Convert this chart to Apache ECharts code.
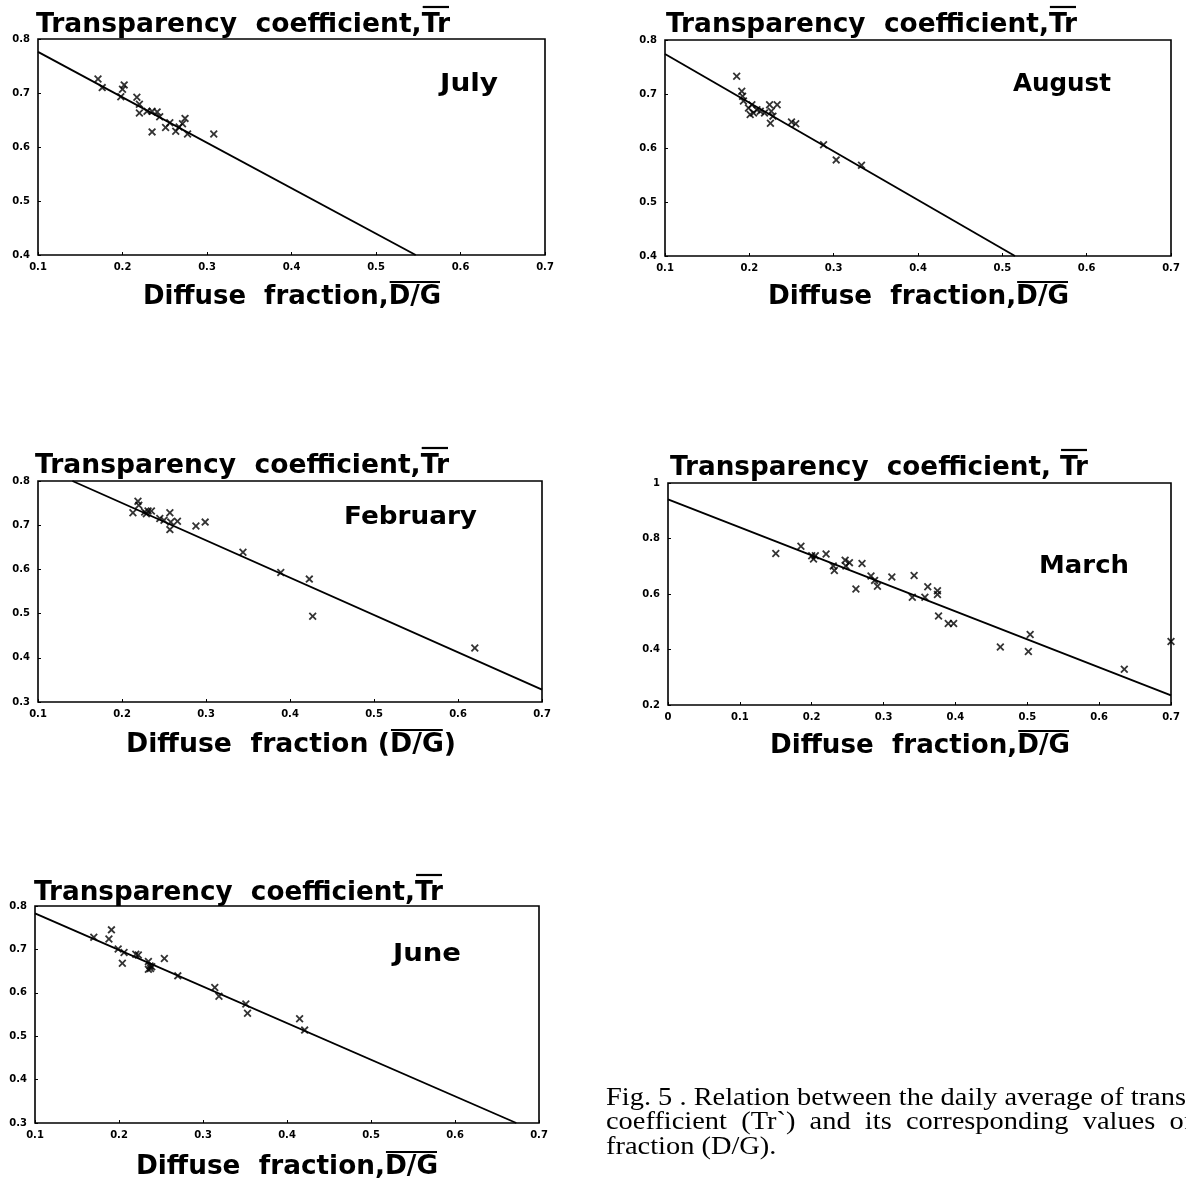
<!DOCTYPE html>
<html><head><meta charset="utf-8">
<script src="https://cdn.jsdelivr.net/npm/echarts@6/dist/echarts.min.js"></script>
<style>html,body{margin:0;padding:0;background:#fff}#c{width:1186px;height:1183px}</style>
</head><body><div id="c"></div>
<script>
// ---------------- DATA ----------------
const julyPoints = [[0.171,0.726],[0.176,0.710],[0.198,0.693],[0.200,0.707],[0.202,0.715],[0.217,0.692],[0.220,0.679],[0.220,0.663],[0.229,0.666],[0.235,0.666],[0.241,0.665],[0.244,0.656],[0.235,0.628],[0.251,0.636],[0.256,0.645],[0.263,0.629],[0.267,0.637],[0.271,0.643],[0.274,0.653],[0.277,0.624],[0.308,0.624]];
const julyFit = [[0.1,0.776],[0.547,0.40]];

const augustPoints = [[0.185,0.733],[0.191,0.705],[0.192,0.696],[0.193,0.687],[0.199,0.674],[0.201,0.662],[0.203,0.680],[0.205,0.665],[0.209,0.671],[0.213,0.668],[0.218,0.665],[0.224,0.680],[0.226,0.668],[0.228,0.659],[0.225,0.646],[0.233,0.680],[0.250,0.648],[0.255,0.645],[0.288,0.606],[0.303,0.578],[0.333,0.568]];
const augustFit = [[0.1,0.774],[0.515,0.40]];

const februaryPoints = [[0.213,0.728],[0.219,0.754],[0.220,0.745],[0.227,0.730],[0.229,0.726],[0.231,0.732],[0.235,0.732],[0.245,0.715],[0.250,0.711],[0.257,0.728],[0.257,0.690],[0.258,0.707],[0.266,0.709],[0.288,0.698],[0.299,0.707],[0.344,0.639],[0.389,0.593],[0.423,0.578],[0.427,0.494],[0.620,0.422]];
const februaryFit = [[0.141,0.80],[0.70,0.328]];

const marchPoints = [[0.150,0.746],[0.185,0.772],[0.200,0.738],[0.2025,0.726],[0.205,0.738],[0.220,0.744],[0.230,0.701],[0.2315,0.685],[0.2465,0.722],[0.2525,0.713],[0.2475,0.701],[0.270,0.710],[0.2615,0.618],[0.2825,0.665],[0.2875,0.649],[0.2915,0.628],[0.3115,0.661],[0.3425,0.667],[0.340,0.588],[0.3615,0.626],[0.3575,0.588],[0.375,0.612],[0.375,0.598],[0.3765,0.521],[0.390,0.494],[0.3975,0.494],[0.4625,0.409],[0.5015,0.393],[0.504,0.454],[0.635,0.329],[0.70,0.429]];
const marchFit = [[0,0.941],[0.7,0.235]];

const junePoints = [[0.170,0.728],[0.188,0.724],[0.191,0.745],[0.199,0.701],[0.206,0.693],[0.204,0.668],[0.220,0.689],[0.223,0.687],[0.235,0.672],[0.237,0.662],[0.2375,0.656],[0.235,0.654],[0.239,0.660],[0.254,0.679],[0.270,0.639],[0.314,0.612],[0.319,0.592],[0.351,0.574],[0.353,0.553],[0.415,0.540],[0.421,0.514]];
const juneFit = [[0.1,0.783],[0.673,0.30]];

const monthNames = ['July','August','February','March','June'];
// [text before overline, overlined part, text after]
const yTitle = ['Transparency  coefficient,', 'Tr', ''];
const yTitleMarch = ['Transparency  coefficient, ', 'Tr', ''];
const xTitle = ['Diffuse  fraction,', 'D/G', ''];
const xTitleFeb = ['Diffuse  fraction (', 'D/G', ')'];
const captionLines = ['Fig. 5 . Relation between the daily average of trans',
                      'coefficient  (Tr`)  and  its  corresponding  values  of',
                      'fraction (D/G).'];

// ---------------- LAYOUT ----------------
const panels = [
  {pts: julyPoints, fit: julyFit, grid:{left:38, top:39, width:507, height:216}, x:[0.1,0.7,0.1], y:[0.4,0.8,0.1],
   title:{t:yTitle, x:36, y:25, w:414}, name:{t:xTitle, x:143, y:297, w:298}, month:{t:monthNames[0], x:440, y:85, w:58}},
  {pts: augustPoints, fit: augustFit, grid:{left:665, top:40, width:506, height:216}, x:[0.1,0.7,0.1], y:[0.4,0.8,0.1],
   title:{t:yTitle, x:666, y:25, w:411}, name:{t:xTitle, x:768, y:297, w:301}, month:{t:monthNames[1], x:1013, y:85, w:98}},
  {pts: februaryPoints, fit: februaryFit, grid:{left:38, top:481, width:504, height:221}, x:[0.1,0.7,0.1], y:[0.3,0.8,0.1],
   title:{t:yTitle, x:35, y:466, w:414}, name:{t:xTitleFeb, x:126, y:745, w:330}, month:{t:monthNames[2], x:344, y:518, w:133}},
  {pts: marchPoints, fit: marchFit, grid:{left:668, top:483, width:503, height:222}, x:[0,0.7,0.1], y:[0.2,1.0,0.2],
   title:{t:yTitleMarch, x:670, y:468, w:418}, name:{t:xTitle, x:770, y:746, w:300}, month:{t:monthNames[3], x:1039, y:567, w:90}},
  {pts: junePoints, fit: juneFit, grid:{left:35, top:906, width:504, height:217}, x:[0.1,0.7,0.1], y:[0.3,0.8,0.1],
   title:{t:yTitle, x:34, y:893, w:409}, name:{t:xTitle, x:136, y:1167, w:302}, month:{t:monthNames[4], x:393, y:955, w:68}}
];

const HEAD = {size:26, family:'"DejaVu Sans"', weight:'bold', bar:18};
const NAME = {size:27, family:'"DejaVu Sans"', weight:'bold', bar:15};
const MONTH_FONT = 'bold 24px "DejaVu Sans"';
const CAP_FONT = '25px "Liberation Serif"';

const mctx = document.createElement('canvas').getContext('2d');
function measure(text, font){ mctx.font = font; return mctx.measureText(text).width; }
function stretchedText(text, x, y, font, w){
  const nat = measure(text, font);
  return {type:'text', x:x, y:y, scaleX: w ? w/nat : 1, originX:0, originY:0, silent:true,
          style:{text:text, font:font, fill:'#000', align:'left', verticalAlign:'middle', textAlign:'left', textVerticalAlign:'middle'}};
}
function overlinedText(parts, x, y, spec, w){
  const font = spec.weight + ' ' + spec.size + 'px ' + spec.family;
  const full = parts.join('');
  const s = w / measure(full, font);
  const x0 = x + measure(parts[0], font) * s;
  const x1 = x + measure(parts[0] + parts[1], font) * s;
  return [stretchedText(full, x, y, font, w),
    {type:'line', silent:true, shape:{x1:x0+1, y1:y-spec.bar, x2:x1-1, y2:y-spec.bar}, style:{stroke:'#000', lineWidth:2.2}}];
}

const crossPath = 'path://M0,1.6L1.6,0L5,3.4L8.4,0L10,1.6L6.6,5L10,8.4L8.4,10L5,6.6L1.6,10L0,8.4L3.4,5Z';
const fmt = v => String(Math.round(v*10)/10);

const grids=[], xAxes=[], yAxes=[], series=[], graphics=[];
panels.forEach((p,i)=>{
  grids.push(Object.assign({show:true, borderColor:'#000', borderWidth:1.6, containLabel:false}, p.grid));
  const label = {color:'#000', fontSize:10, fontWeight:'bold', fontFamily:'DejaVu Sans', formatter:fmt};
  const common = {axisLine:{show:false}, splitLine:{show:false},
    axisTick:{show:true, inside:true, length:3, lineStyle:{color:'#000', width:1}}};
  xAxes.push(Object.assign({type:'value', gridIndex:i, min:p.x[0], max:p.x[1], interval:p.x[2],
    axisLabel:Object.assign({margin:7}, label)}, common));
  yAxes.push(Object.assign({type:'value', gridIndex:i, min:p.y[0], max:p.y[1], interval:p.y[2],
    axisLabel:Object.assign({margin:8}, label)}, common));
  series.push({type:'line', xAxisIndex:i, yAxisIndex:i, data:p.fit, showSymbol:false, silent:true,
    lineStyle:{color:'#000', width:1.9}, z:2});
  series.push({type:'scatter', xAxisIndex:i, yAxisIndex:i, data:p.pts, symbol:crossPath, symbolSize:8,
    itemStyle:{color:'#000'}, silent:true, z:3});
  graphics.push(...overlinedText(p.title.t, p.title.x, p.title.y, HEAD, p.title.w));
  graphics.push(...overlinedText(p.name.t, p.name.x, p.name.y, NAME, p.name.w));
  graphics.push(stretchedText(p.month.t, p.month.x, p.month.y, MONTH_FONT, p.month.w));
});

// caption
const capScale = 580 / measure(captionLines[0], CAP_FONT);
[1098, 1122, 1147].forEach((yy, k)=>{
  const g = stretchedText(captionLines[k], 606, yy, CAP_FONT, null);
  g.scaleX = capScale;
  graphics.push(g);
});

const chart = echarts.init(document.getElementById('c'), null, {renderer:'canvas'});
chart.setOption({
  backgroundColor:'#fff', animation:false,
  grid:grids, xAxis:xAxes, yAxis:yAxes, series:series, graphic:graphics
});
</script></body></html>
